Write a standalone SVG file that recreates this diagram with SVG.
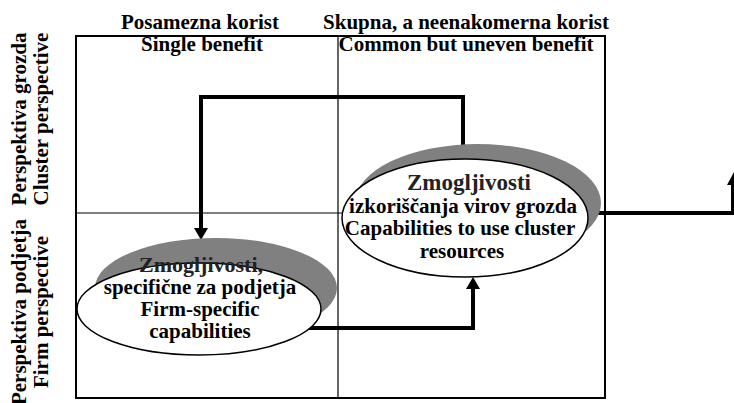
<svg xmlns="http://www.w3.org/2000/svg" width="734" height="403" viewBox="0 0 734 403">
<style>
text{font-family:"Liberation Serif","Times New Roman",serif;font-weight:bold;fill:#000;text-anchor:middle}
.h{font-size:21px}
.v{font-size:21px}
.t{font-size:21px}
.title{font-size:23px;fill:#222}
.frame{fill:none;stroke:#000;stroke-width:2}
.div{fill:none;stroke:#000;stroke-width:1.2}
.shadow{fill:#808080;stroke:none}
.ell{fill:#fff;stroke:#000;stroke-width:1.5}
.conn{fill:none;stroke:#000;stroke-width:4}
.head{fill:#000;stroke:none}
</style>
<rect width="734" height="403" fill="#fff"/>
<g id="grid">
<rect class="frame" x="76" y="36" width="529" height="362"/>
<line class="div" x1="338" y1="36" x2="338" y2="398"/>
<line class="div" x1="76" y1="213" x2="605" y2="213"/>
</g>
<g id="headers">
<text class="h" x="200" y="29">Posamezna korist</text>
<text class="h" x="466" y="29">Skupna, a neenakomerna korist</text>
<text class="h" x="202" y="51">Single benefit</text>
<text class="h" x="466" y="51">Common but uneven benefit</text>
</g>
<g id="side-labels">
<text class="v" transform="translate(26,119) rotate(-90)">Perspektiva grozda</text>
<text class="v" transform="translate(48,119) rotate(-90)">Cluster perspective</text>
<text class="v" transform="translate(26,312) rotate(-90)">Perspektiva podjetja</text>
<text class="v" transform="translate(48,312) rotate(-90)">Firm perspective</text>
</g>
<g id="connectors">
<path class="conn" d="M463,159 V97 H201 V229"/>
<polygon class="head" points="194,228 208,228 201,240"/>
<path class="conn" d="M305,328 H473 V288"/>
<polygon class="head" points="466,289 480,289 473,277"/>
<path class="conn" d="M588,213 H733 V183"/>
<polygon class="head" points="727,185 741,185 734,172"/>
</g>
<g id="node-firm">
<ellipse class="shadow" cx="216" cy="288" rx="121" ry="50"/>
<ellipse class="ell" cx="199" cy="309" rx="122" ry="46"/>
<text class="title" x="201" y="272" style="font-size:22px">Zmogljivosti,</text>
<text class="t" x="200" y="294">specifične za podjetja</text>
<text class="t" x="200" y="316">Firm-specific</text>
<text class="t" x="200" y="338">capabilities</text>
</g>
<g id="node-cluster">
<ellipse class="shadow" cx="478" cy="203" rx="123" ry="59"/>
<ellipse class="ell" cx="465" cy="218" rx="123" ry="59"/>
<text class="title" x="469" y="190">Zmogljivosti</text>
<text class="t" x="463" y="213">izkoriščanja virov grozda</text>
<text class="t" x="460" y="235">Capabilities to use cluster</text>
<text class="t" x="462" y="258">resources</text>
</g>
</svg>
